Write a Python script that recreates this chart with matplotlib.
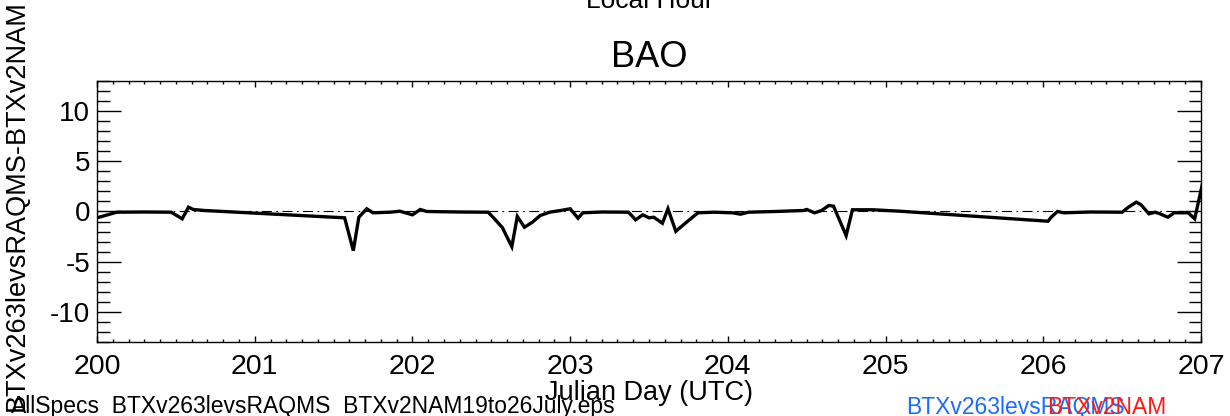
import numpy as np
import matplotlib
matplotlib.use('Agg')
import matplotlib.pyplot as plt
from matplotlib.ticker import MultipleLocator

plt.rcParams['font.family'] = ['Liberation Sans', 'DejaVu Sans']
plt.rcParams['axes.unicode_minus'] = False

# Julian day (UTC) and BTX difference
jday = [200.00, 200.125, 200.30, 200.47, 200.54, 200.58, 200.61, 200.68,
        201.57, 201.625, 201.66, 201.71, 201.75, 201.86, 201.92, 202.00,
        202.05, 202.09, 202.30, 202.48, 202.52, 202.57, 202.63, 202.665,
        202.71, 202.76, 202.81, 202.87, 202.94, 203.00, 203.05, 203.08,
        203.20, 203.37, 203.415, 203.46, 203.50, 203.53, 203.585, 203.62,
        203.67, 203.73, 203.81, 203.91, 204.03, 204.08, 204.13, 204.30,
        204.48, 204.50, 204.55, 204.595, 204.64, 204.67, 204.75, 204.79,
        204.92, 205.09, 206.03, 206.05, 206.09, 206.13, 206.30, 206.50,
        206.54, 206.59, 206.62, 206.67, 206.71, 206.74, 206.79, 206.83,
        206.92, 206.96, 207.01]
btx_diff = [-0.63, -0.07, -0.05, -0.07, -0.73, 0.43, 0.20, 0.10,
            -0.63, -3.90, -0.57, 0.27, -0.13, -0.07, 0.03, -0.33,
            0.20, 0.00, -0.05, -0.07, -0.73, -1.60, -3.50, -0.50,
            -1.57, -1.07, -0.40, -0.07, 0.10, 0.27, -0.67, -0.13,
            -0.05, -0.07, -0.83, -0.33, -0.63, -0.57, -1.17, 0.27,
            -1.97, -1.17, -0.13, -0.07, -0.13, -0.27, -0.07, 0.00,
            0.10, 0.20, -0.13, 0.10, 0.60, 0.53, -2.40, 0.17,
            0.17, 0.03, -0.97, -0.57, 0.00, -0.13, -0.05, -0.07,
            0.43, 0.93, 0.67, -0.23, -0.07, -0.23, -0.57, -0.13,
            -0.13, -0.73, 2.80]

fig = plt.figure(figsize=(12.3, 4.16), dpi=100)
ax = fig.add_axes([0.0789, 0.1779, 0.8975, 0.6274])

ax.plot(jday, btx_diff, color='black', lw=2.4, solid_joinstyle='miter')
ax.axhline(0, color='black', lw=0.8, ls=(0, (9, 4, 1.5, 4)))

ax.set_xlim(200, 207)
ax.set_ylim(-13, 13)
ax.xaxis.set_major_locator(MultipleLocator(1))
ax.xaxis.set_minor_locator(MultipleLocator(0.1))
ax.yaxis.set_major_locator(MultipleLocator(5))
ax.yaxis.set_minor_locator(MultipleLocator(1))
ax.tick_params(axis='x', which='both', direction='in', top=True, labelsize=20.5, pad=9)
ax.tick_params(axis='x', which='major', length=4, width=1)
ax.tick_params(axis='x', which='minor', length=2, width=1)
ax.tick_params(axis='y', which='both', direction='in', right=True, labelsize=20, pad=5)
ax.tick_params(axis='y', which='major', length=17, width=1)
ax.tick_params(axis='y', which='minor', length=9, width=1)
for s in ax.spines.values():
    s.set_linewidth(1)

ax.set_xlabel('Julian Day (UTC)', fontsize=19.5, labelpad=0)
fig.text(0.014, 0.505, 'BTXv263levsRAQMS-BTXv2NAM', rotation=90, fontsize=19.5,
         ha='center', va='center')
fig.text(0.528, 0.862, 'BAO', fontsize=26, ha='center', va='center')
fig.text(0.528, 0.981, 'Local Hour', fontsize=19, ha='center', va='baseline')

fig.text(0.009, 0.007, 'AllSpecs_BTXv263levsRAQMS_BTXv2NAM19to26July.eps',
         fontsize=16.5, ha='left', va='baseline')
fig.text(0.737, 0.005, 'BTXv263levsRAQMS', fontsize=16.5, color='#1a6cff',
         ha='left', va='baseline')
fig.text(0.851, 0.005, 'BTXv2NAM', fontsize=16.5, color='#ff1a1a',
         ha='left', va='baseline')

fig.savefig('out.png', dpi=100)
